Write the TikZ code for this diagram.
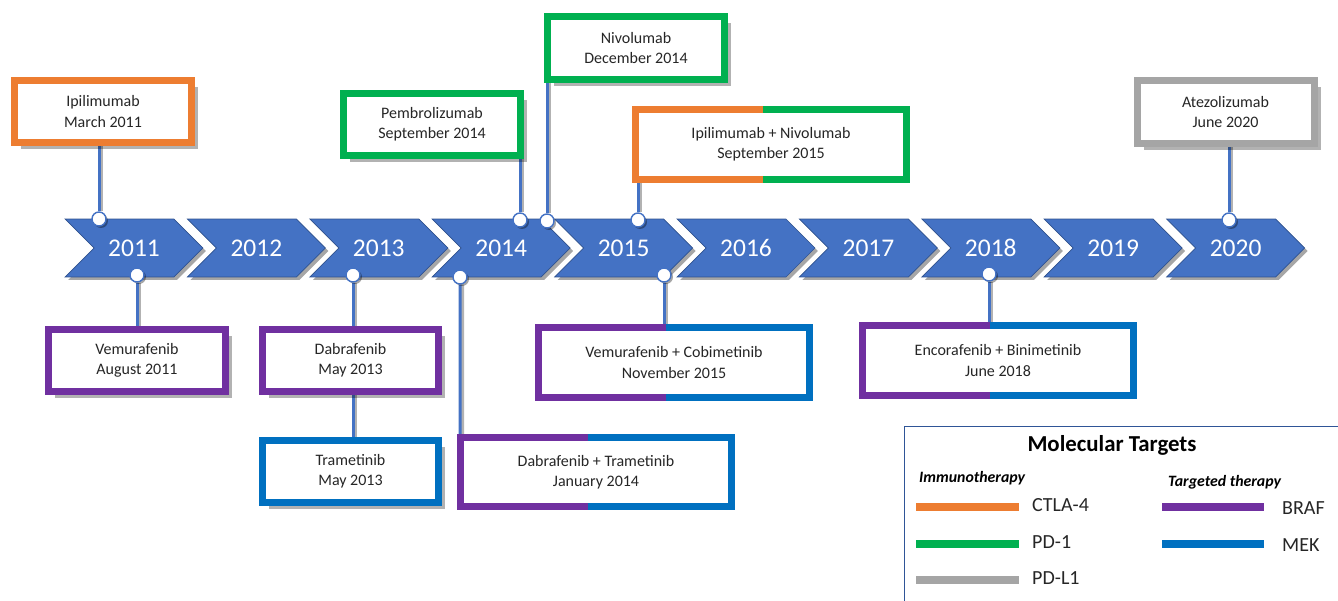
\documentclass[tikz,border=0pt]{standalone}
\usepackage{fontspec}
\setmainfont{Carlito}
\usepackage{xcolor}
\usetikzlibrary{shapes.symbols,shadows,calc}
\definecolor{chevblue}{HTML}{4472C4}
\definecolor{chevedge}{HTML}{2F528F}
\definecolor{ctlaorange}{HTML}{ED7D31}
\definecolor{pdgreen}{HTML}{00B050}
\definecolor{pdlgray}{HTML}{A5A5A5}
\definecolor{brafpurple}{HTML}{7030A0}
\definecolor{mekblue}{HTML}{0070C0}
\definecolor{framegray}{HTML}{2F5597}
\definecolor{textgray}{HTML}{262626}
\pgfdeclarelayer{background}
\pgfsetlayers{background,main}
\tikzset{
  yearchev/.style={signal,signal to=east,signal from=west,signal pointer angle=90,
    fill=chevblue,draw=chevedge,line width=0.4pt,minimum width=2.76cm,minimum height=1.16cm,
    inner sep=0pt,text=white,font=\fontsize{14.5}{16}\selectfont,
    drop shadow={shadow xshift=0.6mm,shadow yshift=-0.6mm,fill=black,opacity=0.35}},
  eventbox/.style={rectangle,fill=white,line width=1.4mm,minimum width=3.54cm,minimum height=1.26cm,
    align=center,inner sep=0pt,text=textgray,font=\fontsize{9.1}{11.4}\selectfont,
    drop shadow={shadow xshift=1.3mm,shadow yshift=-1.3mm,fill=black,opacity=0.3}},
  widebox/.style={eventbox,minimum width=5.3cm},
  halfedge/.style={line width=1.4mm,line join=miter},
  milestone/.style={circle,fill=white,draw=chevblue,line width=0.8pt,minimum size=2.8mm,inner sep=0pt,
    drop shadow={shadow xshift=0.4mm,shadow yshift=-0.4mm,fill=black,opacity=0.35}},
  stem/.style={draw=chevblue,line width=0.6mm,
    preaction={draw=black!30,line width=0.6mm,transform canvas={xshift=0.5mm}}},
  swatch/.style={line width=1.6mm},
  legendtext/.style={anchor=west,text=textgray,font=\fontsize{11.4}{13}\selectfont}
}

\begin{document}
\begin{tikzpicture}[x=0.02cm,y=-0.02cm]
\useasboundingbox (0,0) rectangle (1338,601);

% year arrows
\foreach \yr [count=\i from 0] in {2011,2012,2013,2014,2015,2016,2017,2018,2019,2020}
  \node[yearchev] (y\yr) at ({134+122.4*\i},248) {\yr};

% approvals above the line
\node[eventbox,draw=ctlaorange] (ipi11) at (103,111.5) {Ipilimumab\\March 2011};
\node[eventbox,draw=pdgreen] (pembro14) at (432,124.5) {Pembrolizumab\\September 2014};
\node[eventbox,draw=pdgreen] (nivo14) at (636,48) {Nivolumab\\December 2014};
\node[widebox] (ipinivo15) at (771,144.5) {Ipilimumab + Nivolumab\\September 2015};
\node[eventbox,draw=pdlgray] (atezo20) at (1225.5,112) {Atezolizumab\\June 2020};

% approvals below the line
\node[eventbox,draw=brafpurple] (vemu11) at (137,360.5) {Vemurafenib\\August 2011};
\node[eventbox,draw=brafpurple] (dabra13) at (350.5,360.5) {Dabrafenib\\May 2013};
\node[eventbox,draw=mekblue] (trame13) at (350.5,471.5) {Trametinib\\May 2013};
\node[widebox] (dabtra14) at (596,472) {Dabrafenib + Trametinib\\January 2014};
\node[widebox] (vemcob15) at (674,362.5) {Vemurafenib + Cobimetinib\\November 2015};
\node[widebox] (encbin18) at (998,360.5) {Encorafenib + Binimetinib\\June 2018};

% two-coloured frames
\draw[halfedge,ctlaorange] ($(ipinivo15.north)+(-8,0)$) -| (ipinivo15.south west) -- ($(ipinivo15.south)+(-8,0)$);
\draw[halfedge,pdgreen] ($(ipinivo15.north)+(-8,0)$) -| (ipinivo15.south east) -- ($(ipinivo15.south)+(-8,0)$);
\foreach \combo in {dabtra14,vemcob15,encbin18} {
  \draw[halfedge,brafpurple] ($(\combo.north)+(-8,0)$) -| (\combo.south west) -- ($(\combo.south)+(-8,0)$);
  \draw[halfedge,mekblue] ($(\combo.north)+(-8,0)$) -| (\combo.south east) -- ($(\combo.south)+(-8,0)$);
}

% dots on the arrows
\node[milestone] (m-ipi11) at (99,219) {};
\node[milestone] (m-pembro14) at (520,220) {};
\node[milestone] (m-nivo14) at (547,221) {};
\node[milestone] (m-ipinivo15) at (638,220) {};
\node[milestone] (m-atezo20) at (1229,220) {};
\node[milestone] (m-vemu11) at (137,275) {};
\node[milestone] (m-dabra13) at (353,275) {};
\node[milestone] (m-dabtra14) at (460,277) {};
\node[milestone] (m-vemcob15) at (664,275) {};
\node[milestone] (m-encbin18) at (989,274) {};

\begin{pgfonlayer}{background}
\draw[stem] (m-ipi11) -- (m-ipi11 |- ipi11.south);
\draw[stem] (m-pembro14) -- (m-pembro14 |- pembro14.south);
\draw[stem] (m-nivo14) -- (m-nivo14 |- nivo14.south);
\draw[stem] (m-ipinivo15) -- (m-ipinivo15 |- ipinivo15.south);
\draw[stem] (m-atezo20) -- (m-atezo20 |- atezo20.south);
\draw[stem] (m-vemu11) -- (m-vemu11 |- vemu11.north);
\draw[stem] (m-dabra13) -- (m-dabra13 |- trame13.north);
\draw[stem] (m-dabtra14) -- (dabtra14.north west);
\draw[stem] (m-vemcob15) -- (m-vemcob15 |- vemcob15.north);
\draw[stem] (m-encbin18) -- (m-encbin18 |- encbin18.north);
\end{pgfonlayer}

% legend
\node[draw=framegray,line width=0.8pt,anchor=north west,minimum width=9cm,minimum height=4cm] (legend) at (904,426) {};
\node[font=\bfseries\fontsize{13}{15}\selectfont] (legtitle) at (1112,445) {Molecular Targets};
\node[anchor=west,font=\bfseries\itshape\fontsize{9}{11}\selectfont] (immuno) at (913,478) {Immunotherapy};
\node[anchor=west,font=\bfseries\itshape\fontsize{9}{11}\selectfont] (targeted) at (1162,482) {Targeted therapy};
\foreach \col/\yy/\lab [count=\k] in {ctlaorange/507/CTLA-4,pdgreen/544/PD-1,pdlgray/580/PD-L1} {
  \draw[swatch,\col] (916,\yy) -- (1019,\yy);
  \node[legendtext] (imm\k) at (1026,\yy-2) {\lab};
}
\foreach \col/\yy/\lab [count=\k] in {brafpurple/507/BRAF,mekblue/544/MEK} {
  \draw[swatch,\col] (1162,\yy) -- (1264,\yy);
  \node[legendtext] (tgt\k) at (1276,\yy+1) {\lab};
}
\end{tikzpicture}
\end{document}
